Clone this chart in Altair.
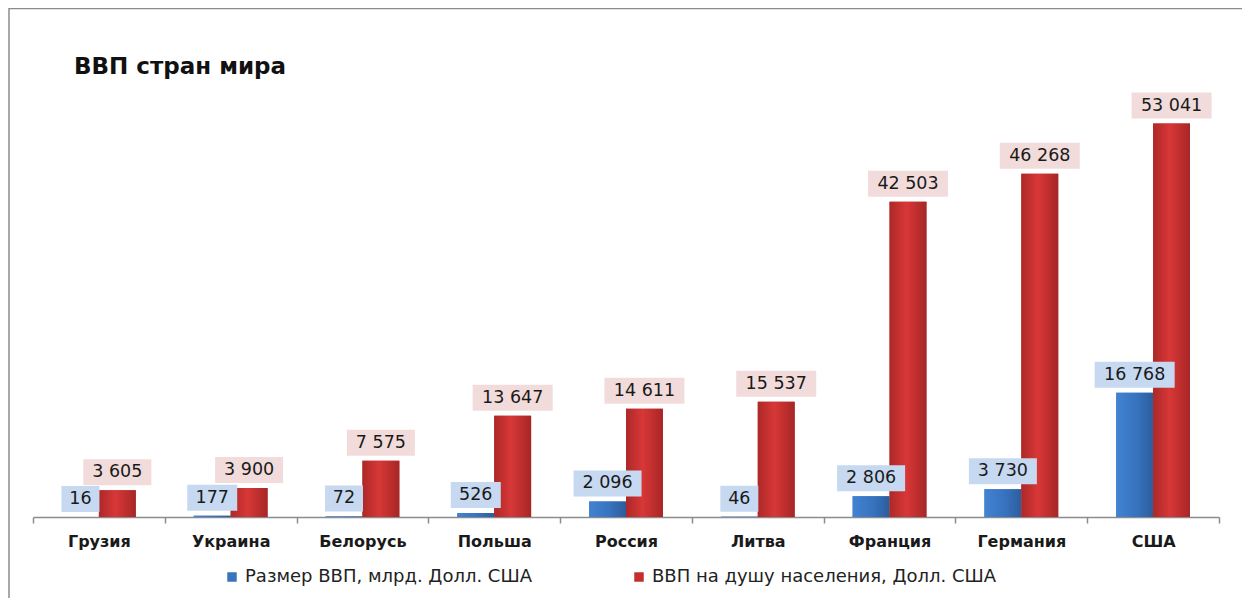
import altair as alt
import pandas as pd

countries = ["Грузия", "Украина", "Белорусь", "Польша", "Россия", "Литва", "Франция", "Германия", "США"]
gdp_bn = [16, 177, 72, 526, 2096, 46, 2806, 3730, 16768]
gdp_per_capita = [3605, 3900, 7575, 13647, 14611, 15537, 42503, 46268, 53041]
series_names = ["Размер ВВП, млрд. Долл. США", "ВВП на душу населения, Долл. США"]

rows = []
for c, a, b in zip(countries, gdp_bn, gdp_per_capita):
    rows.append({"country": c, "series": series_names[0], "value": a})
    rows.append({"country": c, "series": series_names[1], "value": b})
df = pd.DataFrame(rows)
df["label"] = df["value"].map(lambda v: f"{v:,}".replace(",", " "))

BLUE = "#3a74bf"
RED = "#c32f2d"
blue_grad = {"gradient": "linear", "x1": 0, "x2": 1, "y1": 0, "y2": 0,
             "stops": [{"offset": 0, "color": "#4283d2"}, {"offset": 0.55, "color": "#3773bf"},
                       {"offset": 1, "color": "#2c5d9c"}]}
red_grad = {"gradient": "linear", "x1": 0, "x2": 1, "y1": 0, "y2": 0,
            "stops": [{"offset": 0, "color": "#ad2828"}, {"offset": 0.45, "color": "#d83737"},
                      {"offset": 1, "color": "#a72626"}]}
is_blue = f"datum.series === '{series_names[0]}'"

base = alt.Chart(df).encode(
    x=alt.X("country:N", sort=countries,
            scale=alt.Scale(paddingInner=0, paddingOuter=0),
            axis=alt.Axis(title=None, labelAngle=0, labelFont="DejaVu Sans", labelFontWeight="bold",
                          labelFontSize=16, labelColor="#1a1a1a", labelPadding=10,
                          tickSize=6, tickColor="#8c8c8c", tickWidth=1.5,
                          domainColor="#8c8c8c", domainWidth=1.5, tickBand="extent", grid=False)),
    xOffset=alt.XOffset("series:N", sort=series_names,
                        scale=alt.Scale(paddingInner=0, paddingOuter=0.786)),
    y=alt.Y("value:Q", stack=None, scale=alt.Scale(domain=[0, 60000]), axis=None),
)

bars = base.mark_bar().encode(
    color=alt.Color("series:N", sort=series_names,
                    scale=alt.Scale(domain=series_names, range=[BLUE, RED]),
                    legend=alt.Legend(title=None, orient="none", legendX=190, legendY=496,
                                      direction="horizontal", symbolType="square", symbolSize=90,
                                      symbolStrokeWidth=0, labelFont="DejaVu Sans", labelFontSize=18,
                                      labelColor="#222222", columnPadding=98, labelOffset=4,
                                      labelLimit=600))
)

grad = base.mark_bar().encode(
    fill=alt.condition(is_blue, alt.value(blue_grad), alt.value(red_grad))
)

boxes = base.transform_calculate(
    boxw="14 + 12 * length(replace(datum.label, ' ', '')) + 6 * (length(datum.label) - length(replace(datum.label, ' ', '')))"
).mark_bar(yOffset=-5, y2Offset=-31).encode(
    y2=alt.Y2("value:Q"),
    size=alt.Size("boxw:Q", scale=None),
    fill=alt.condition(is_blue, alt.value("#c6d9f1"), alt.value("#f2dcdb")),
)

labels = base.mark_text(yOffset=-18, baseline="middle", align="center", font="DejaVu Sans",
                        fontSize=17.5, color="#1a1a1a").encode(text="label:N")

frame = alt.Chart(pd.DataFrame({"f": [0]})).mark_rect(
    filled=False, stroke="#8c8c8c", strokeWidth=1.5
).encode(x=alt.value(-24), x2=alt.value(1213), y=alt.value(-63.5), y2=alt.value(700))

chart = alt.layer(frame, bars, grad, boxes, labels).properties(
    width=1186, height=445,
    background="white",
    autosize=alt.AutoSizeParams(type="none"),
    padding={"left": 25, "top": 64, "right": 23, "bottom": 81},
    title=alt.TitleParams("ВВП стран мира", anchor="start", frame="group", font="DejaVu Sans",
                          fontSize=23, fontWeight="bold", color="#111111", baseline="alphabetic",
                          offset=0, dx=41, dy=89),
).configure_view(strokeWidth=0)

chart.save("out.html", embed_options={"renderer": "svg", "actions": False})
